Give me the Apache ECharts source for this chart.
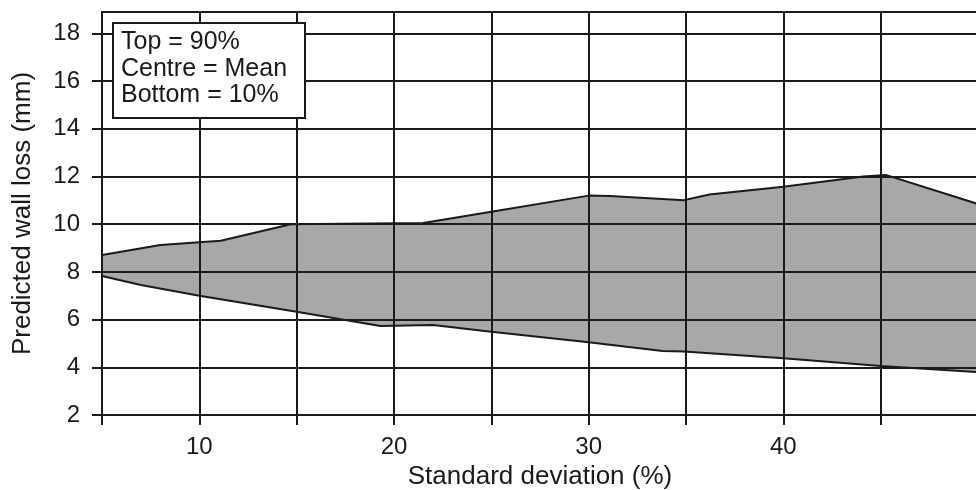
<!DOCTYPE html>
<html>
<head>
<meta charset="utf-8">
<script src="https://cdn.jsdelivr.net/npm/echarts@6/dist/echarts.min.js"></script>
<style>
html,body{margin:0;padding:0;background:#fff}
#main{width:976px;height:490px}
</style>
</head>
<body>
<div id="main"></div>
<script>
// === data ===
const topX=[5,8,11.1,14.7,21.5,25,30,31.1,34.9,36.2,40,44.1,45.3,50];
const topY=[8.71,9.13,9.31,10.0,10.05,10.52,11.2,11.18,11.01,11.25,11.57,12.0,12.06,10.85];
const botX=[5,7,10,15,19.3,22,25,30,33.8,34.9,40,45,50];
const botY=[7.83,7.45,7.0,6.33,5.73,5.77,5.49,5.05,4.68,4.66,4.38,4.05,3.8];
const legendLines=['Top = 90%','Centre = Mean','Bottom = 10%'];

const FONT='"Liberation Sans", Arial, sans-serif';
const INK='#1a1a1a';

function pairs(xs,ys){return xs.map(function(x,i){return [x,ys[i]]})}
const topPts=pairs(topX,topY), botPts=pairs(botX,botY);

const chart=echarts.init(document.getElementById('main'),null,{renderer:'canvas'});
chart.setOption({
  animation:false,
  backgroundColor:'#fff',
  textStyle:{fontFamily:FONT},
  grid:{left:102,top:12,width:876,bottom:75,containLabel:false,outerBoundsMode:'none',
    show:true,borderColor:INK,borderWidth:2,backgroundColor:'transparent'},
  xAxis:{
    type:'value',min:5,max:50,interval:5,z:10,
    name:'Standard deviation (%)',nameLocation:'middle',nameGap:46,
    nameTextStyle:{fontSize:26,color:INK,fontFamily:FONT},
    axisLine:{show:true,lineStyle:{color:INK,width:2}},
    axisTick:{show:true,length:10,lineStyle:{color:INK,width:2}},
    axisLabel:{margin:20,fontSize:24,color:INK,fontFamily:FONT,
      formatter:function(v){return (v%10===0&&v<50)?String(v):''}},
    splitLine:{show:true,lineStyle:{color:INK,width:2}}
  },
  yAxis:{
    type:'value',min:2,max:18.9,interval:2,z:10,
    name:'Predicted wall loss (mm)',nameLocation:'middle',nameGap:66,
    nameTextStyle:{fontSize:26,color:INK,fontFamily:FONT},
    axisLine:{show:true,lineStyle:{color:INK,width:2}},
    axisTick:{show:true,length:10,lineStyle:{color:INK,width:2}},
    axisLabel:{margin:22,fontSize:24,color:INK,fontFamily:FONT,showMaxLabel:false},
    splitLine:{show:true,lineStyle:{color:INK,width:2}}
  },
  series:[
    {
      type:'custom',z:1,silent:true,
      data:[[0,0]],
      renderItem:function(params,api){
        const pts=topPts.concat(botPts.slice().reverse()).map(function(p){return api.coord(p)});
        return {type:'polygon',shape:{points:pts},style:{fill:'#a8a8a8',stroke:null}};
      }
    },
    {type:'line',z:12,data:topPts,symbol:'none',lineStyle:{color:INK,width:2}},
    {type:'line',z:12,data:botPts,symbol:'none',lineStyle:{color:INK,width:2}}
  ],
  graphic:[
    {type:'rect',z:100,left:112,top:22,shape:{width:192,height:95},
      style:{fill:'#fff',stroke:INK,lineWidth:2}},
    {type:'text',z:101,left:121,top:29,
      style:{text:legendLines.join('\n'),font:'25px '+FONT,fill:INK,lineHeight:26.5}}
  ]
});
</script>
</body>
</html>
